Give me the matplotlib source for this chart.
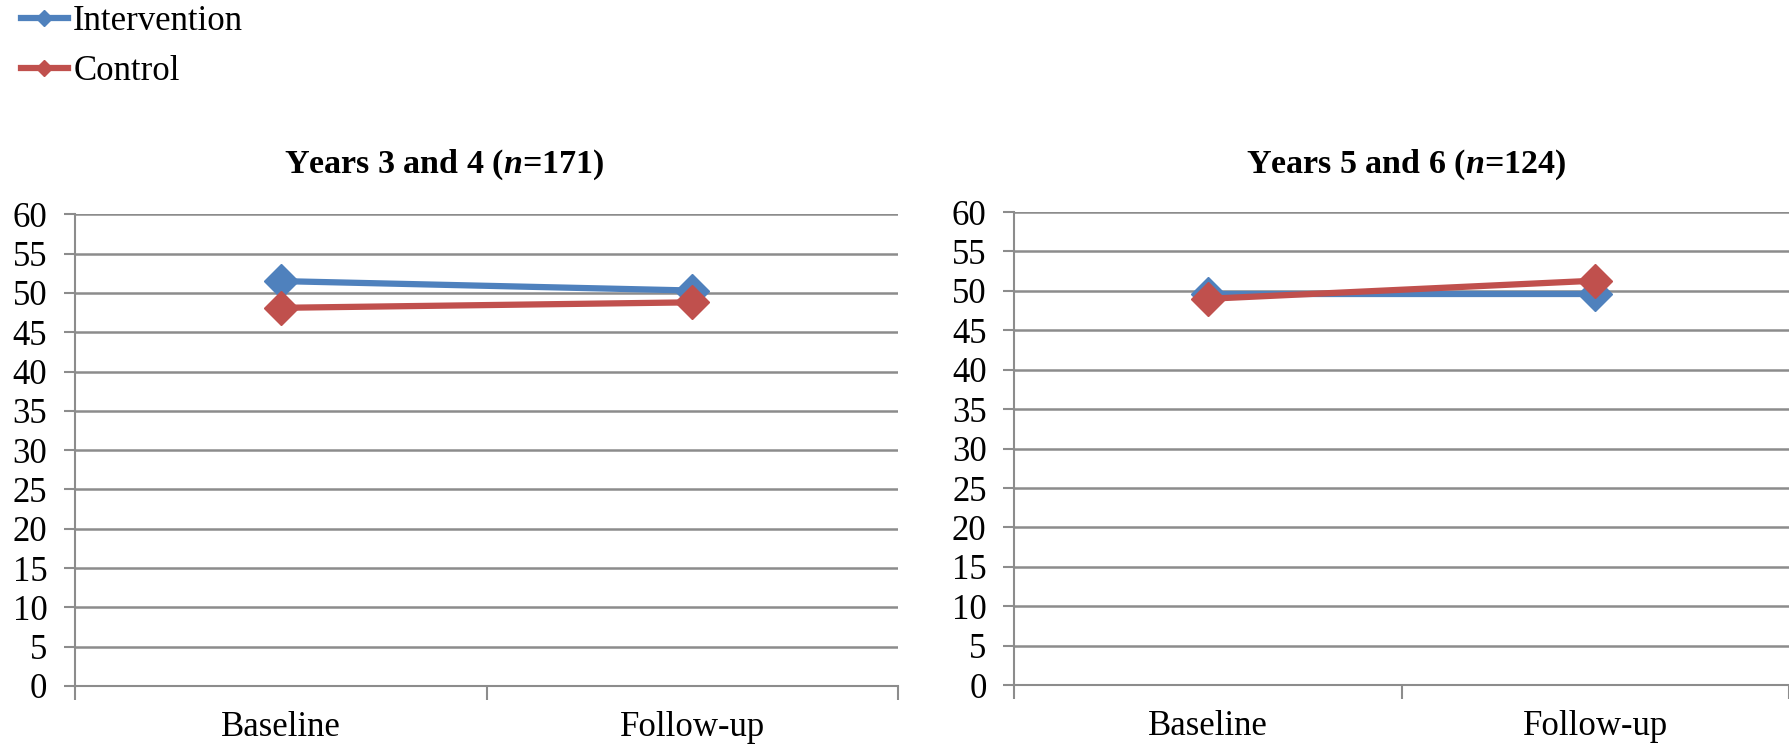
import numpy as np
import matplotlib
matplotlib.use('Agg')
import matplotlib.pyplot as plt
from matplotlib.lines import Line2D

# data
categories = ['Baseline', 'Follow-up']
series_names = ['Intervention', 'Control']
y34_intervention = [51.5, 50.3]
y34_control = [48.1, 48.8]
y56_intervention = [49.6, 49.6]
y56_control = [49.0, 51.3]
panel_titles = [r'Years 3 and 4 ($\mathbfit{n}$=171)', r'Years 5 and 6 ($\mathbfit{n}$=124)']
y_ticks = list(range(0, 61, 5))

BLUE = '#4F81BD'
RED = '#C0504D'
GRID = '#8C8C8C'

plt.rcParams['font.family'] = ['Liberation Serif', 'DejaVu Serif']
plt.rcParams['mathtext.fontset'] = 'custom'
plt.rcParams['mathtext.rm'] = 'Liberation Serif'
plt.rcParams['mathtext.it'] = 'Liberation Serif:italic'
plt.rcParams['mathtext.bf'] = 'Liberation Serif:bold'
plt.rcParams['mathtext.bfit'] = 'Liberation Serif:bold:italic'

fig = plt.figure(figsize=(17.89, 7.44), dpi=100)

axes_boxes = [(0.042, 0.078, 0.460, 0.634), (0.567, 0.079, 0.433, 0.636)]
title_x = [0.248, 0.786]
data = [(y34_intervention, y34_control), (y56_intervention, y56_control)]

for box, (yi, yc), title, tx in zip(axes_boxes, data, panel_titles, title_x):
    ax = fig.add_axes(box)
    x = np.arange(len(categories))
    ax.plot(x, yi, color=BLUE, lw=4.5, marker='D', ms=17, zorder=3)
    ax.plot(x, yc, color=RED, lw=4.5, marker='D', ms=17, zorder=4)
    ax.set_xlim(-0.5, len(categories) - 0.5)
    ax.set_ylim(0, 60)
    ax.set_yticks(y_ticks)
    ax.yaxis.grid(True, color=GRID, lw=1.8)
    ax.set_axisbelow(True)
    # category boundaries as major ticks, labels as minor ticks
    ax.set_xticks(np.arange(len(categories) + 1) - 0.5)
    ax.set_xticklabels([])
    ax.set_xticks(x, minor=True)
    ax.set_xticklabels(categories, minor=True)
    ax.tick_params(axis='x', which='major', length=10, width=1.5, color=GRID)
    ax.tick_params(axis='x', which='minor', length=0, pad=18, labelsize=25)
    ax.tick_params(axis='y', length=8, width=1.5, color=GRID, pad=12, labelsize=25)
    for s in ['top', 'right']:
        ax.spines[s].set_visible(False)
    for s in ['left', 'bottom']:
        ax.spines[s].set_color(GRID)
        ax.spines[s].set_linewidth(1.5)
    fig.text(tx, 0.778, title, ha='center', va='center', fontsize=24.5, fontweight='bold')

handles = [Line2D([], [], color=BLUE, lw=4.5, marker='D', ms=8),
           Line2D([], [], color=RED, lw=4.5, marker='D', ms=8)]
fig.legend(handles, series_names, loc='upper left', bbox_to_anchor=(0.004, 1.012),
           frameon=False, fontsize=25, handlelength=1.35, handletextpad=0.15,
           labelspacing=0.5, borderaxespad=0)

fig.savefig('out.png', dpi=100)
